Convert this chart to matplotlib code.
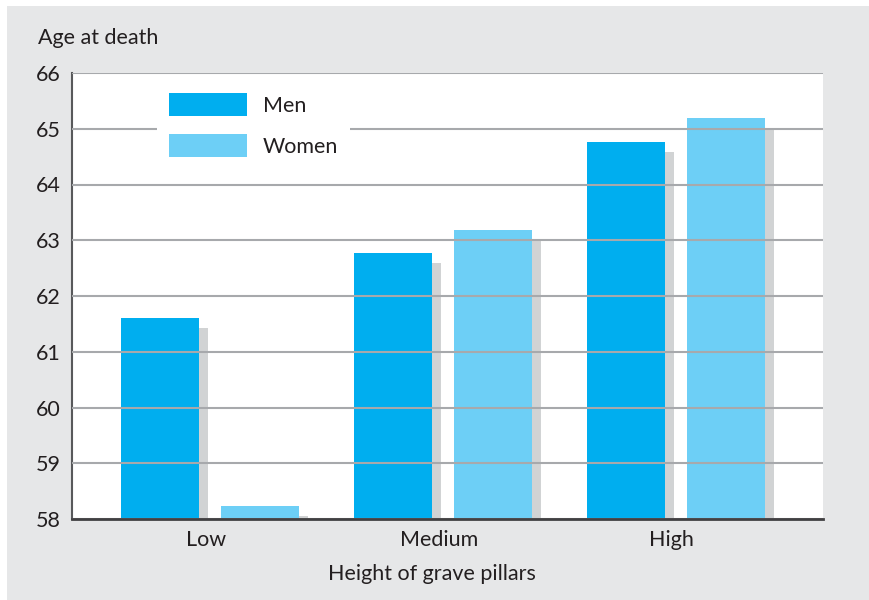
import numpy as np
import matplotlib

matplotlib.use("Agg")
import matplotlib.pyplot as plt
from matplotlib.patches import Patch, Rectangle
from matplotlib.transforms import ScaledTranslation

# data
categories = ["Low", "Medium", "High"]
men = [61.6, 62.77, 64.76]
women = [58.23, 63.18, 65.19]
y_ticks = [58, 59, 60, 61, 62, 63, 64, 65, 66]

MEN_COLOR = "#00aeef"
WOMEN_COLOR = "#6dcff6"
SHADOW_COLOR = "#d1d3d4"
BG_COLOR = "#e6e7e8"
GRID_COLOR = "#a7a9ac"
TEXT_COLOR = "#231f20"
FS = 15.5

plt.rcParams["font.family"] = ["Lato", "DejaVu Sans"]

fig = plt.figure(figsize=(8.7, 6.0), dpi=100)
fig.patches.append(Rectangle((7 / 870, 0), 1, 594 / 600, transform=fig.transFigure,
                             facecolor=BG_COLOR, edgecolor="none", zorder=-10))
ax = fig.add_axes([72 / 870, 81 / 600, 751 / 870, 446 / 600])

x = np.arange(len(categories))
width = 0.335
off = 0.2146
base = y_ticks[0]

# drop shadows, shifted 9 px right and 10 px down
shift = ax.transData + ScaledTranslation(9 / 100, -10 / 100, fig.dpi_scale_trans)
for vals, dx in ((men, -off), (women, off)):
    sh = ax.bar(x + dx, np.array(vals) - base, width, bottom=base,
                color=SHADOW_COLOR, zorder=0.5, linewidth=0)
    for p in sh:
        p.set_transform(shift)

ax.bar(x - off, np.array(men) - base, width, bottom=base, color=MEN_COLOR,
       zorder=2, linewidth=0)
ax.bar(x + off, np.array(women) - base, width, bottom=base, color=WOMEN_COLOR,
       zorder=2, linewidth=0)

ax.set_xlim(-0.592, 2.631)
ax.set_ylim(y_ticks[0], y_ticks[-1])
ax.set_yticks(y_ticks)
# labels sit a touch left of the group centres in the original
ax.set_xticks(x - 0.018)
ax.set_xticklabels(categories)
ax.yaxis.grid(True, color=GRID_COLOR, linewidth=1.5, zorder=1)
ax.set_axisbelow(False)
ax.tick_params(length=0, labelsize=FS, colors=TEXT_COLOR, pad=8)
ax.tick_params(axis="x", pad=8)

for s in ("top", "right"):
    ax.spines[s].set_visible(False)
ax.spines["left"].set_color("#58595b")
ax.spines["left"].set_linewidth(1.5)
ax.spines["bottom"].set_color("#414042")
ax.spines["bottom"].set_linewidth(2)
ax.spines["bottom"].set_zorder(3)

ax.set_xlabel("Height of grave pillars", fontsize=FS, color=TEXT_COLOR)
ax.xaxis.set_label_coords((432 - 72) / 751, -(574 - 519) / 446)
ax.xaxis.label.set_va("center")
fig.text(38 / 870, 1 - 38 / 600, "Age at death", fontsize=FS, color=TEXT_COLOR,
         ha="left", va="center")

handles = [Patch(facecolor=MEN_COLOR, label="Men"),
           Patch(facecolor=WOMEN_COLOR, label="Women")]
leg = ax.legend(handles=handles, loc="upper left",
                bbox_to_anchor=((157 - 72) / 751, 0.982), fontsize=FS,
                frameon=True, facecolor="white", edgecolor="none", framealpha=1,
                fancybox=False, handlelength=3.63, handleheight=1.3,
                handletextpad=0.74, labelspacing=0.8, borderpad=0.55,
                borderaxespad=0)
for t in leg.get_texts():
    t.set_color(TEXT_COLOR)
leg.set_zorder(4)

fig.savefig("out.png", dpi=100)
